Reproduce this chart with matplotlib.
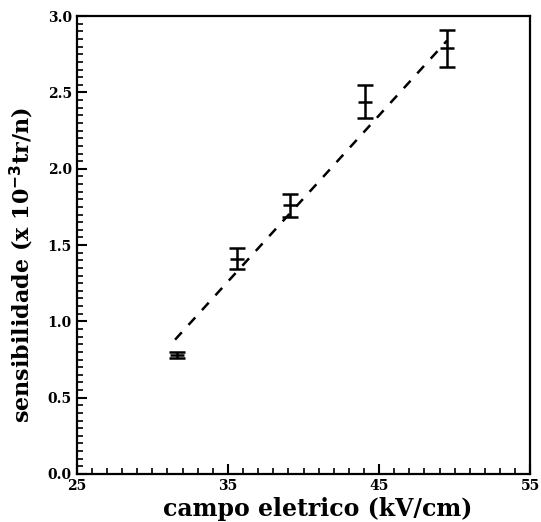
import matplotlib
matplotlib.use("Agg")
import matplotlib.pyplot as plt
from matplotlib.ticker import MultipleLocator

# dados
campo = [31.6, 35.6, 39.1, 44.1, 49.5]
sens = [0.78, 1.41, 1.76, 2.44, 2.79]
erro = [0.02, 0.07, 0.075, 0.11, 0.12]

ajuste_x = [31.5, 49.5]
ajuste_y = [0.88, 2.84]

xticks = [25, 35, 45, 55]
yticks = [0.0, 0.5, 1.0, 1.5, 2.0, 2.5, 3.0]

plt.rcParams['font.family'] = ['DejaVu Serif']
plt.rcParams['font.weight'] = 'bold'

fig = plt.figure(figsize=(5.41, 5.22), dpi=100)
ax = fig.add_axes([0.142, 0.092, 0.838, 0.877])

ax.plot(ajuste_x, ajuste_y, color='black', linestyle=(0, (4, 4)), linewidth=1.8)
ax.errorbar(campo, sens, yerr=erro, fmt='none', ecolor='black',
            elinewidth=1.8, capsize=6, capthick=1.8)
ax.scatter(campo, sens, marker='_', s=90, color='black', linewidths=1.8)

ax.set_xlim(25, 55)
ax.set_ylim(0, 3.0)
ax.set_xticks(xticks)
ax.set_yticks(yticks)
ax.xaxis.set_minor_locator(MultipleLocator(1))
ax.yaxis.set_minor_locator(MultipleLocator(0.05))
ax.tick_params(axis='both', which='both', direction='in', top=False, right=False)
ax.tick_params(axis='both', which='major', length=7, width=1.5, labelsize=10)
ax.tick_params(axis='both', which='minor', length=4, width=1.2)
ax.set_yticklabels([f"{v:.1f}" for v in yticks])
for s in ax.spines.values():
    s.set_linewidth(1.6)

ax.set_xlabel("campo eletrico (kV/cm)", fontsize=17, fontweight='bold')
ax.set_ylabel("sensibilidade (x 10$^{-3}$tr/n)", fontsize=16, fontweight='bold')
ax.xaxis.set_label_coords(0.532, -0.05)
ax.yaxis.set_label_coords(-0.09, 0.456)

fig.savefig("out.png", dpi=100)
